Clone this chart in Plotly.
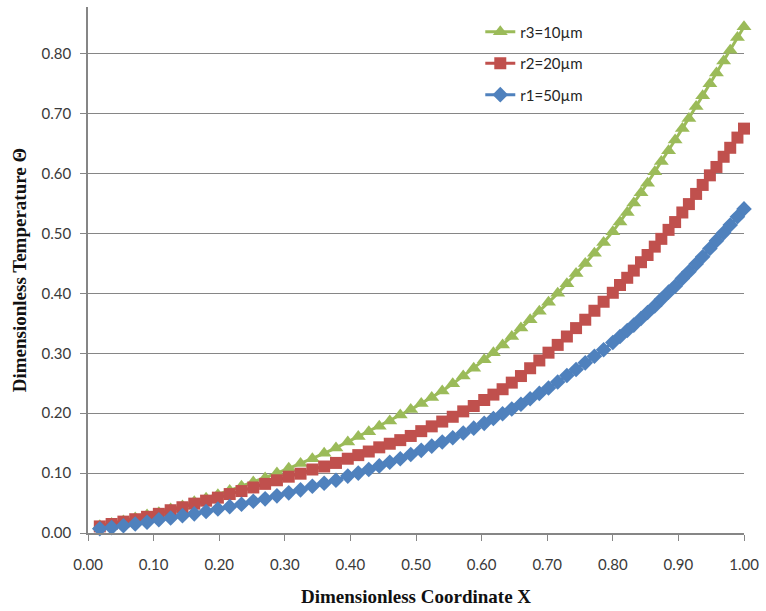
import plotly.graph_objects as go

# x positions of the plotted points (markers get denser where the curves steepen)
x_vals = [0.018, 0.036, 0.054, 0.072, 0.090, 0.108, 0.126, 0.144, 0.162, 0.180,
          0.198, 0.216, 0.234, 0.252, 0.270, 0.288, 0.306, 0.324, 0.342, 0.360,
          0.378, 0.396,
          0.412, 0.428, 0.444, 0.460, 0.476, 0.492, 0.508, 0.524, 0.540, 0.556,
          0.572, 0.588, 0.604,
          0.618, 0.632, 0.646, 0.660, 0.674, 0.688, 0.702, 0.716, 0.730, 0.744,
          0.758, 0.772, 0.786, 0.800,
          0.811, 0.822, 0.832, 0.843, 0.853, 0.864, 0.874, 0.885, 0.895, 0.906,
          0.916, 0.927, 0.937, 0.948, 0.958, 0.969, 0.979, 0.990, 1.000]

r3_10um = [0.012, 0.016, 0.020, 0.025, 0.030, 0.034, 0.040, 0.045, 0.052, 0.058,
           0.064, 0.071, 0.078, 0.085, 0.092, 0.100, 0.108, 0.116, 0.124, 0.133,
           0.142, 0.152,
           0.161, 0.169, 0.178, 0.187, 0.197, 0.206, 0.216, 0.226, 0.237, 0.249,
           0.262, 0.275, 0.289,
           0.301, 0.314, 0.328, 0.342, 0.356, 0.370, 0.385, 0.400, 0.416, 0.433,
           0.450, 0.467, 0.485, 0.503,
           0.519, 0.535, 0.551, 0.568, 0.584, 0.603, 0.620, 0.638, 0.656, 0.675,
           0.692, 0.712, 0.730, 0.750, 0.768, 0.788, 0.806, 0.827, 0.845]

r2_20um = [0.011, 0.015, 0.019, 0.023, 0.027, 0.032, 0.038, 0.043, 0.049, 0.054,
           0.059, 0.065, 0.070, 0.076, 0.082, 0.088, 0.094, 0.099, 0.106, 0.111,
           0.117, 0.124,
           0.130, 0.136, 0.143, 0.149, 0.155, 0.162, 0.170, 0.178, 0.186, 0.194,
           0.203, 0.212, 0.222,
           0.231, 0.240, 0.251, 0.262, 0.275, 0.288, 0.301, 0.314, 0.328, 0.342,
           0.356, 0.371, 0.386, 0.401,
           0.414, 0.426, 0.438, 0.452, 0.464, 0.478, 0.491, 0.506, 0.519, 0.535,
           0.549, 0.566, 0.581, 0.597, 0.611, 0.628, 0.643, 0.660, 0.675]

r1_50um = [0.007, 0.009, 0.012, 0.015, 0.018, 0.022, 0.025, 0.029, 0.032, 0.036,
           0.040, 0.044, 0.048, 0.053, 0.057, 0.062, 0.067, 0.072, 0.078, 0.083,
           0.088, 0.095,
           0.100, 0.106, 0.112, 0.118, 0.124, 0.131, 0.138, 0.145, 0.152, 0.159,
           0.167, 0.175, 0.183,
           0.191, 0.199, 0.207, 0.215, 0.224, 0.233, 0.242, 0.252, 0.263, 0.273,
           0.284, 0.295, 0.306, 0.318,
           0.328, 0.338, 0.347, 0.358, 0.368, 0.379, 0.390, 0.402, 0.412, 0.425,
           0.436, 0.449, 0.461, 0.475, 0.488, 0.501, 0.514, 0.528, 0.541]

assert len(x_vals) == len(r3_10um) == len(r2_20um) == len(r1_50um)

series_names = ["r3=10\u00b5m", "r2=20\u00b5m", "r1=50\u00b5m"]
series_data = [r3_10um, r2_20um, r1_50um]
series_colors = ["#9BBB59", "#C0504D", "#4F81BD"]
series_symbols = ["triangle-up", "square", "diamond"]
series_sizes = [13, 12, 12]

x_ticks = [0.0, 0.1, 0.2, 0.3, 0.4, 0.5, 0.6, 0.7, 0.8, 0.9, 1.0]
y_ticks = [0.0, 0.1, 0.2, 0.3, 0.4, 0.5, 0.6, 0.7, 0.8]

fig = go.Figure()
for i, (name, ys, col, sym, sz) in enumerate(zip(series_names, series_data, series_colors, series_symbols, series_sizes)):
    fig.add_trace(go.Scatter(
        x=x_vals, y=ys, name=name, mode="lines+markers",
        line=dict(color=col, width=3),
        marker=dict(symbol=sym, size=sz, color=col, line=dict(width=0)),
        cliponaxis=False, legendgroup=f"g{i}",
    ))

axis_gray = "#868686"
tick_font = dict(family="Lato", size=15, color="#3a3a3a")
title_font = dict(family="Liberation Serif", size=19, color="#111111")
fig.update_layout(
    width=766, height=611,
    margin=dict(l=88, r=17, t=7, b=76),
    paper_bgcolor="white", plot_bgcolor="white",
    showlegend=True,
    legend=dict(x=0.598, y=0.984, xanchor="left", yanchor="top",
                bgcolor="rgba(0,0,0,0)", tracegroupgap=9,
                font=dict(family="Lato", size=15, color="#262626")),
    xaxis=dict(range=[0, 1.0], tickvals=x_ticks, ticktext=[f"{v:.2f}" for v in x_ticks],
               showgrid=False, showline=True, linecolor=axis_gray, linewidth=1.5,
               ticks="outside", ticklen=6, tickcolor=axis_gray, zeroline=False,
               ticklabelstandoff=11, tickfont=tick_font,
               title=dict(text="<b>Dimensionless Coordinate X</b>", standoff=18,
                          font=title_font)),
    yaxis=dict(range=[0, 0.878], tickvals=y_ticks, ticktext=[f"{v:.2f}" for v in y_ticks],
               showgrid=True, gridcolor=axis_gray, gridwidth=1.2,
               showline=True, linecolor=axis_gray, linewidth=1.5,
               ticks="outside", ticklen=6, tickcolor=axis_gray, zeroline=False,
               ticklabelstandoff=6, tickfont=tick_font,
               title=dict(text="<b>Dimensionless Temperature \u0398</b>", standoff=10,
                          font=title_font)),
)

fig.write_html("out.html")
